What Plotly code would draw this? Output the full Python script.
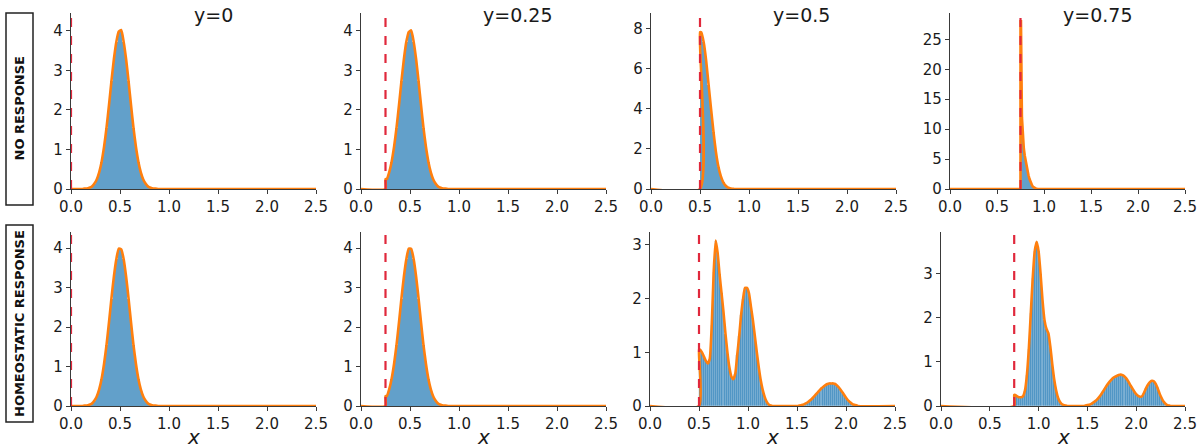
import numpy as np
import plotly.graph_objects as go
from plotly.subplots import make_subplots

# column titles and thresholds (red dashed lines)
col_titles = ["y=0", "y=0.25", "y=0.5", "y=0.75"]
thresholds = [0.0, 0.25, 0.5, 0.75]
row_labels = ["NO RESPONSE", "HOMEOSTATIC RESPONSE"]
x_ticks = [0, 0.5, 1.0, 1.5, 2.0, 2.5]

# histogram heights; each panel has a first bin edge and a bin width
# top row: no response
nr_y0_start, nr_y0_width = 0.1, 0.025
nr_y0 = [0.0, 0.01, 0.01, 0.03, 0.06, 0.13, 0.24, 0.42, 0.69, 1.07, 1.55, 2.12, 2.72, 3.28, 3.72, 3.98,
         4.02, 3.72, 3.28, 2.72, 2.12, 1.55, 1.07, 0.69, 0.42, 0.24, 0.13, 0.06, 0.03, 0.01, 0.01, 0.0]

nr_y25_start, nr_y25_width = 0.25, 0.025
nr_y25 = [0.25, 0.42, 0.69, 1.07, 1.55, 2.12, 2.72, 3.28, 3.72, 3.97,
          4.01, 3.72, 3.28, 2.72, 2.12, 1.55, 1.07, 0.69, 0.42, 0.24, 0.13, 0.06, 0.03, 0.01, 0.01, 0.0]

nr_y50_start, nr_y50_width = 0.5, 0.025
nr_y50 = [7.8, 7.3, 6.4, 5.2, 4.0, 2.85, 1.85, 1.12, 0.64, 0.33, 0.16, 0.07, 0.03, 0.01]

nr_y75_start, nr_y75_width = 0.75, 0.01
nr_y75 = [28.0, 12.0, 8.5, 6.8, 5.6, 4.6, 3.7, 2.9, 2.3, 1.7, 1.2, 0.85, 0.55, 0.35, 0.2, 0.1, 0.05, 0.02]

# bottom row: homeostatic response
hr_y0_start, hr_y0_width = 0.1, 0.025
hr_y0 = [0.0, 0.01, 0.01, 0.03, 0.06, 0.13, 0.24, 0.42, 0.69, 1.07, 1.55, 2.12, 2.72, 3.28, 3.72, 3.99,
         3.97, 3.72, 3.28, 2.72, 2.12, 1.55, 1.07, 0.69, 0.42, 0.24, 0.13, 0.06, 0.03, 0.01, 0.01, 0.0]

hr_y25_start, hr_y25_width = 0.25, 0.025
hr_y25 = [0.25, 0.42, 0.69, 1.07, 1.55, 2.12, 2.72, 3.28, 3.72, 3.99,
          3.98, 3.72, 3.28, 2.72, 2.12, 1.55, 1.07, 0.69, 0.42, 0.24, 0.13, 0.06, 0.03, 0.01, 0.01, 0.0]

hr_y50_start, hr_y50_width = 0.5, 0.02
hr_y50 = [1.05, 1.0, 0.92, 0.84, 0.79, 0.88, 1.5, 2.5, 3.08, 2.85, 2.45, 2.1, 1.75, 1.35, 1.0, 0.72,
          0.55, 0.5, 0.6, 0.95, 1.3, 1.7, 2.0, 2.2, 2.2, 2.1, 1.85, 1.6, 1.3, 1.0, 0.72, 0.48, 0.3,
          0.17, 0.08, 0.03, 0.01,
          0, 0, 0, 0, 0, 0, 0, 0, 0, 0, 0, 0, 0, 0,
          0.01, 0.02, 0.03, 0.05, 0.07, 0.1, 0.13, 0.17, 0.21, 0.25, 0.29, 0.33, 0.36, 0.39, 0.41,
          0.42, 0.42, 0.42, 0.41, 0.38, 0.34, 0.29, 0.24, 0.18, 0.13, 0.09, 0.06, 0.03, 0.02, 0.01]

hr_y75_start, hr_y75_width = 0.75, 0.02
hr_y75 = [0.25, 0.22, 0.2, 0.2, 0.22, 0.35, 0.7, 1.3, 2.1, 2.9, 3.5, 3.72, 3.5, 3.0, 2.4, 1.95,
          1.75, 1.65, 1.35, 0.95, 0.6, 0.35, 0.18, 0.09, 0.04, 0.02, 0.01,
          0, 0, 0, 0, 0, 0, 0, 0, 0,
          0.01, 0.02, 0.03, 0.05, 0.08, 0.11, 0.15, 0.2, 0.26, 0.33, 0.4, 0.47, 0.53, 0.58, 0.63,
          0.66, 0.68, 0.7, 0.71, 0.7, 0.67, 0.62, 0.55, 0.47, 0.4, 0.33, 0.27, 0.23, 0.21, 0.22,
          0.3, 0.4, 0.48, 0.54, 0.57, 0.56, 0.5, 0.4, 0.28, 0.18, 0.1, 0.05, 0.02, 0.01]

panels = [
    [(nr_y0_start, nr_y0_width, nr_y0), (nr_y25_start, nr_y25_width, nr_y25),
     (nr_y50_start, nr_y50_width, nr_y50), (nr_y75_start, nr_y75_width, nr_y75)],
    [(hr_y0_start, hr_y0_width, hr_y0), (hr_y25_start, hr_y25_width, hr_y25),
     (hr_y50_start, hr_y50_width, hr_y50), (hr_y75_start, hr_y75_width, hr_y75)],
]

y_ranges = [[4.45, 4.45, 8.76, 29.4], [4.41, 4.41, 3.24, 3.94]]
y_dticks = [[1, 1, 2, 5], [1, 1, 1, 1]]

# axes placement in pixels of the 1200x448 page
W, H = 1200, 448
x_px = [[(71, 316), (361, 606), (651, 896), (950, 1185)],
        [(71, 316), (361, 606), (650, 895), (941, 1185)]]
y_px = [(13, 189), (232, 406)]

BLUE = "rgba(31,119,180,0.7)"
BLUE_EDGED = "rgba(31,119,180,0.82)"
ORANGE = "#ff7f0e"
RED = "#e0283c"
AXIS = "#3a3a3a"
TEXT = "#1a1a1a"
FONT = "DejaVu Sans"

fig = make_subplots(rows=2, cols=4)

for r in range(2):
    for c in range(4):
        start, width, vals = panels[r][c]
        vals = np.array(vals, dtype=float)
        centers = start + width * (np.arange(len(vals)) + 0.5)
        thr = thresholds[c]
        edged = r == 1 and c >= 2
        fig.add_trace(go.Bar(
            x=centers, y=vals, width=width,
            marker=dict(color=BLUE_EDGED if edged else BLUE,
                        line=dict(color="rgba(255,255,255,0.55)", width=0.3 if edged else 0)),
            showlegend=False, hoverinfo="skip"),
            row=r + 1, col=c + 1)
        # density curve: flat at zero up to the threshold, then the histogram outline
        last = start + width * len(vals)
        lx = np.concatenate([[0.0, thr, thr], centers, [last, 2.5]])
        ly = np.concatenate([[0.0, 0.0, vals[0]], vals, [0.0, 0.0]])
        spiky = r == 0 and c == 3
        fig.add_trace(go.Scatter(
            x=lx, y=ly, mode="lines",
            line=dict(color=ORANGE, width=2.6, shape="linear" if spiky else "spline", smoothing=0.5),
            showlegend=False, hoverinfo="skip"),
            row=r + 1, col=c + 1)
        fig.add_vline(x=thr, line=dict(color=RED, width=2.2, dash="dash"), row=r + 1, col=c + 1)

        idx = r * 4 + c + 1
        xa = "xaxis" if idx == 1 else f"xaxis{idx}"
        ya = "yaxis" if idx == 1 else f"yaxis{idx}"
        x0, x1 = x_px[r][c]
        y0, y1 = y_px[r]
        fig.layout[xa].update(
            domain=[x0 / W, x1 / W], range=[0, 2.5], tickvals=x_ticks,
            ticktext=[f"{t:.1f}" for t in x_ticks], automargin=False,
            showline=True, linecolor=AXIS, linewidth=1.2, ticks="outside", ticklen=4,
            tickcolor=AXIS, showgrid=False, zeroline=False,
            tickfont=dict(family=FONT, size=15, color=TEXT))
        fig.layout[ya].update(
            domain=[1 - y1 / H, 1 - y0 / H], range=[0, y_ranges[r][c]], dtick=y_dticks[r][c],
            tick0=0, automargin=False, showline=True, linecolor=AXIS, linewidth=1.2,
            ticks="outside", ticklen=4, tickcolor=AXIS, showgrid=False, zeroline=False,
            tickfont=dict(family=FONT, size=15, color=TEXT))
        if r == 1:
            fig.add_annotation(text="x", x=(x0 + x1) / 2 / W, y=1 - 437 / H, xref="paper", yref="paper",
                               showarrow=False, xanchor="center", yanchor="middle",
                               font=dict(family=FONT, size=20, style="italic", color=TEXT))

# column titles
title_x = [213, 517, 801, 1097]
for c in range(4):
    fig.add_annotation(text=col_titles[c], x=title_x[c] / W, y=1 - 15 / H, xref="paper", yref="paper",
                       showarrow=False, xanchor="center", yanchor="middle",
                       font=dict(family=FONT, size=19, color=TEXT))

# boxed row labels on the left
boxes = [(13, 205), (225, 422)]
for r in range(2):
    b0, b1 = boxes[r]
    fig.add_shape(type="rect", xref="paper", yref="paper", x0=6 / W, x1=33 / W,
                  y0=1 - b1 / H, y1=1 - b0 / H, line=dict(color="#222", width=1.5))
    fig.add_annotation(text=f"<b>{row_labels[r]}</b>", x=19.5 / W, y=1 - (b0 + b1) / 2 / H,
                       xref="paper", yref="paper", showarrow=False, textangle=-90,
                       xanchor="center", yanchor="middle",
                       font=dict(family=FONT, size=13, color="#111"))

fig.update_layout(width=W, height=H, margin=dict(l=0, r=0, t=0, b=0),
                  plot_bgcolor="white", paper_bgcolor="white", bargap=0)

# the page body has a default 8px margin; drop it so the figure fills the window
fig.write_html("out.html", config={"displayModeBar": False},
               post_script="document.body.style.margin='0px';")
